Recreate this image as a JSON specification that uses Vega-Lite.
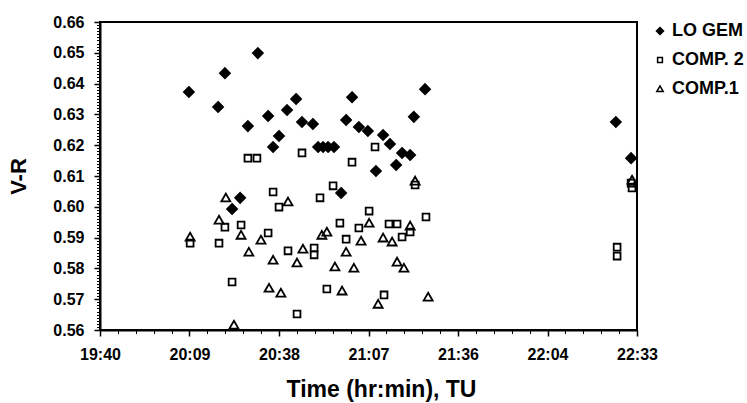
{
  "$schema": "https://vega.github.io/schema/vega-lite/v6.json",
  "width": 537,
  "height": 308,
  "autosize": {"type": "none"},
  "padding": {"left": 100, "top": 22, "right": 110, "bottom": 73},
  "background": "white",
  "config": {
    "view": {"stroke": "black", "strokeWidth": 2},
    "font": "Liberation Sans",
    "axis": {"grid": false, "labelColor": "black", "titleColor": "black", "tickColor": "black", "domainColor": "black"},
    "legend": {"orient": "right", "offset": 14, "padding": 0, "rowPadding": 11, "labelFontSize": 18, "labelFontWeight": "bold", "labelColor": "black", "symbolSize": 50, "labelOffset": 3}
  },
  "data": {
    "values": [
      {"series": "LO GEM", "t": 1209.4, "vr": 0.6373},
      {"series": "LO GEM", "t": 1218.8, "vr": 0.6324},
      {"series": "LO GEM", "t": 1221.0, "vr": 0.6434},
      {"series": "LO GEM", "t": 1225.9, "vr": 0.6029},
      {"series": "LO GEM", "t": 1223.3, "vr": 0.5993},
      {"series": "LO GEM", "t": 1228.4, "vr": 0.6262},
      {"series": "LO GEM", "t": 1231.6, "vr": 0.6499},
      {"series": "LO GEM", "t": 1234.9, "vr": 0.6295},
      {"series": "LO GEM", "t": 1236.5, "vr": 0.6194},
      {"series": "LO GEM", "t": 1238.4, "vr": 0.6230},
      {"series": "LO GEM", "t": 1241.0, "vr": 0.6314},
      {"series": "LO GEM", "t": 1243.9, "vr": 0.6350},
      {"series": "LO GEM", "t": 1245.8, "vr": 0.6275},
      {"series": "LO GEM", "t": 1249.3, "vr": 0.6269},
      {"series": "LO GEM", "t": 1251.0, "vr": 0.6194},
      {"series": "LO GEM", "t": 1252.6, "vr": 0.6194},
      {"series": "LO GEM", "t": 1254.2, "vr": 0.6194},
      {"series": "LO GEM", "t": 1256.1, "vr": 0.6194},
      {"series": "LO GEM", "t": 1258.4, "vr": 0.6045},
      {"series": "LO GEM", "t": 1260.0, "vr": 0.6282},
      {"series": "LO GEM", "t": 1261.9, "vr": 0.6356},
      {"series": "LO GEM", "t": 1264.1, "vr": 0.6259},
      {"series": "LO GEM", "t": 1267.0, "vr": 0.6246},
      {"series": "LO GEM", "t": 1269.6, "vr": 0.6116},
      {"series": "LO GEM", "t": 1271.9, "vr": 0.6233},
      {"series": "LO GEM", "t": 1274.1, "vr": 0.6204},
      {"series": "LO GEM", "t": 1276.1, "vr": 0.6136},
      {"series": "LO GEM", "t": 1278.0, "vr": 0.6175},
      {"series": "LO GEM", "t": 1280.6, "vr": 0.6168},
      {"series": "LO GEM", "t": 1281.8, "vr": 0.6292},
      {"series": "LO GEM", "t": 1285.4, "vr": 0.6382},
      {"series": "LO GEM", "t": 1346.8, "vr": 0.6275},
      {"series": "LO GEM", "t": 1351.7, "vr": 0.6158},
      {"series": "COMP. 2", "t": 1209.8, "vr": 0.5882},
      {"series": "COMP. 2", "t": 1219.1, "vr": 0.5882},
      {"series": "COMP. 2", "t": 1221.0, "vr": 0.5934},
      {"series": "COMP. 2", "t": 1226.2, "vr": 0.5941},
      {"series": "COMP. 2", "t": 1223.3, "vr": 0.5756},
      {"series": "COMP. 2", "t": 1228.4, "vr": 0.6158},
      {"series": "COMP. 2", "t": 1231.3, "vr": 0.6158},
      {"series": "COMP. 2", "t": 1236.5, "vr": 0.6048},
      {"series": "COMP. 2", "t": 1238.4, "vr": 0.5999},
      {"series": "COMP. 2", "t": 1234.9, "vr": 0.5915},
      {"series": "COMP. 2", "t": 1241.3, "vr": 0.5857},
      {"series": "COMP. 2", "t": 1245.8, "vr": 0.6175},
      {"series": "COMP. 2", "t": 1244.2, "vr": 0.5652},
      {"series": "COMP. 2", "t": 1249.7, "vr": 0.5866},
      {"series": "COMP. 2", "t": 1249.7, "vr": 0.5844},
      {"series": "COMP. 2", "t": 1251.6, "vr": 0.6029},
      {"series": "COMP. 2", "t": 1255.8, "vr": 0.6068},
      {"series": "COMP. 2", "t": 1253.8, "vr": 0.5733},
      {"series": "COMP. 2", "t": 1258.0, "vr": 0.5947},
      {"series": "COMP. 2", "t": 1260.0, "vr": 0.5895},
      {"series": "COMP. 2", "t": 1261.9, "vr": 0.6145},
      {"series": "COMP. 2", "t": 1264.1, "vr": 0.5931},
      {"series": "COMP. 2", "t": 1267.4, "vr": 0.5986},
      {"series": "COMP. 2", "t": 1269.3, "vr": 0.6194},
      {"series": "COMP. 2", "t": 1272.2, "vr": 0.5714},
      {"series": "COMP. 2", "t": 1273.8, "vr": 0.5944},
      {"series": "COMP. 2", "t": 1276.4, "vr": 0.5944},
      {"series": "COMP. 2", "t": 1278.0, "vr": 0.5902},
      {"series": "COMP. 2", "t": 1280.6, "vr": 0.5918},
      {"series": "COMP. 2", "t": 1282.2, "vr": 0.6071},
      {"series": "COMP. 2", "t": 1285.7, "vr": 0.5967},
      {"series": "COMP. 2", "t": 1347.2, "vr": 0.5869},
      {"series": "COMP. 2", "t": 1347.2, "vr": 0.5840},
      {"series": "COMP. 2", "t": 1351.7, "vr": 0.6077},
      {"series": "COMP. 2", "t": 1352.0, "vr": 0.6061},
      {"series": "COMP.1", "t": 1209.8, "vr": 0.5902},
      {"series": "COMP.1", "t": 1219.1, "vr": 0.5957},
      {"series": "COMP.1", "t": 1221.3, "vr": 0.6029},
      {"series": "COMP.1", "t": 1226.2, "vr": 0.5908},
      {"series": "COMP.1", "t": 1228.7, "vr": 0.5853},
      {"series": "COMP.1", "t": 1223.9, "vr": 0.5616},
      {"series": "COMP.1", "t": 1232.6, "vr": 0.5892},
      {"series": "COMP.1", "t": 1236.5, "vr": 0.5827},
      {"series": "COMP.1", "t": 1235.2, "vr": 0.5736},
      {"series": "COMP.1", "t": 1239.0, "vr": 0.5720},
      {"series": "COMP.1", "t": 1241.3, "vr": 0.6016},
      {"series": "COMP.1", "t": 1244.2, "vr": 0.5818},
      {"series": "COMP.1", "t": 1246.1, "vr": 0.5863},
      {"series": "COMP.1", "t": 1252.2, "vr": 0.5908},
      {"series": "COMP.1", "t": 1253.8, "vr": 0.5918},
      {"series": "COMP.1", "t": 1256.4, "vr": 0.5805},
      {"series": "COMP.1", "t": 1258.7, "vr": 0.5727},
      {"series": "COMP.1", "t": 1260.0, "vr": 0.5853},
      {"series": "COMP.1", "t": 1262.5, "vr": 0.5801},
      {"series": "COMP.1", "t": 1264.8, "vr": 0.5889},
      {"series": "COMP.1", "t": 1267.4, "vr": 0.5947},
      {"series": "COMP.1", "t": 1270.3, "vr": 0.5684},
      {"series": "COMP.1", "t": 1271.9, "vr": 0.5899},
      {"series": "COMP.1", "t": 1274.8, "vr": 0.5886},
      {"series": "COMP.1", "t": 1276.4, "vr": 0.5821},
      {"series": "COMP.1", "t": 1278.6, "vr": 0.5801},
      {"series": "COMP.1", "t": 1280.6, "vr": 0.5938},
      {"series": "COMP.1", "t": 1282.2, "vr": 0.6084},
      {"series": "COMP.1", "t": 1286.4, "vr": 0.5707},
      {"series": "COMP.1", "t": 1352.0, "vr": 0.6087}
    ]
  },
  "layer": [
    {
      "mark": {"type": "point", "filled": true, "stroke": "black", "strokeWidth": 1.8, "opacity": 1, "size": 100},
      "encoding": {
        "x": {
          "field": "t", "type": "quantitative",
          "scale": {"domain": [1180.8, 1353.6], "nice": false, "zero": false},
          "axis": {
            "orient": "bottom",
            "values": [1180.8, 1209.6, 1238.4, 1267.2, 1296, 1324.8, 1353.6],
            "labelExpr": "floor(datum.value/60) + ':' + format(floor(datum.value % 60 + 0.000001), '02d')",
            "tickSize": 6, "tickWidth": 1.5, "domainWidth": 2,
            "labelFontSize": 16, "labelFontWeight": "bold", "labelPadding": 10,
            "labelFlush": false, "labelOverlap": false,
            "title": "Time (hr:min), TU", "titleFontSize": 23, "titleFontWeight": "bold", "titlePadding": 16, "titleX": 281
          }
        },
        "y": {
          "field": "vr", "type": "quantitative",
          "scale": {"domain": [0.56, 0.66], "nice": false, "zero": false},
          "axis": {
            "orient": "left",
            "values": [0.56, 0.57, 0.58, 0.59, 0.60, 0.61, 0.62, 0.63, 0.64, 0.65, 0.66],
            "format": ".2f",
            "tickSize": 6, "tickWidth": 1.5, "domainWidth": 2,
            "labelFontSize": 16, "labelFontWeight": "bold", "labelPadding": 10,
            "labelFlush": false, "labelOverlap": false,
            "title": "V-R", "titleFontSize": 22, "titleFontWeight": "bold", "titlePadding": 22
          }
        },
        "shape": {
          "field": "series", "type": "nominal",
          "scale": {"domain": ["LO GEM", "COMP. 2", "COMP.1"], "range": ["M0,-1L1,0L0,1L-1,0Z", "M-0.68,-0.68H0.68V0.68H-0.68Z", "M0,-0.85L0.9,0.72L-0.9,0.72Z"]},
          "legend": {"title": null, "encode": {"symbols": {"update": {"stroke": {"value": "black"}, "strokeWidth": {"value": 1.6}}}}}
        },
        "fill": {
          "field": "series", "type": "nominal",
          "scale": {"domain": ["LO GEM", "COMP. 2", "COMP.1"], "range": ["black", "transparent", "transparent"]},
          "legend": {"title": null, "encode": {"symbols": {"update": {"stroke": {"value": "black"}, "strokeWidth": {"value": 1.6}}}}}
        }
      }
    },
    {
      "mark": {"type": "point", "opacity": 0},
      "encoding": {
        "x": {
          "field": "t", "type": "quantitative",
          "axis": {
            "orient": "bottom",
            "values": [1180.8, 1186.56, 1192.32, 1198.08, 1203.84, 1209.6, 1215.36, 1221.12, 1226.88, 1232.64, 1238.4, 1244.16, 1249.92, 1255.68, 1261.44, 1267.2, 1272.96, 1278.72, 1284.48, 1290.24, 1296, 1301.76, 1307.52, 1313.28, 1319.04, 1324.8, 1330.56, 1336.32, 1342.08, 1347.84, 1353.6],
            "labels": false, "domain": false, "tickSize": 3.5, "tickWidth": 1, "title": null
          }
        },
        "y": {
          "field": "vr", "type": "quantitative",
          "axis": {
            "orient": "left",
            "values": [0.56, 0.561, 0.562, 0.563, 0.564, 0.565, 0.566, 0.567, 0.568, 0.569, 0.57, 0.571, 0.572, 0.573, 0.574, 0.575, 0.576, 0.577, 0.578, 0.579, 0.58, 0.581, 0.582, 0.583, 0.584, 0.585, 0.586, 0.587, 0.588, 0.589, 0.59, 0.591, 0.592, 0.593, 0.594, 0.595, 0.596, 0.597, 0.598, 0.599, 0.6, 0.601, 0.602, 0.603, 0.604, 0.605, 0.606, 0.607, 0.608, 0.609, 0.61, 0.611, 0.612, 0.613, 0.614, 0.615, 0.616, 0.617, 0.618, 0.619, 0.62, 0.621, 0.622, 0.623, 0.624, 0.625, 0.626, 0.627, 0.628, 0.629, 0.63, 0.631, 0.632, 0.633, 0.634, 0.635, 0.636, 0.637, 0.638, 0.639, 0.64, 0.641, 0.642, 0.643, 0.644, 0.645, 0.646, 0.647, 0.648, 0.649, 0.65, 0.651, 0.652, 0.653, 0.654, 0.655, 0.656, 0.657, 0.658, 0.659, 0.66],
            "labels": false, "domain": false, "tickSize": 3.5, "tickWidth": 1, "title": null
          }
        }
      }
    }
  ],
  "resolve": {"axis": {"x": "independent", "y": "independent"}}
}
